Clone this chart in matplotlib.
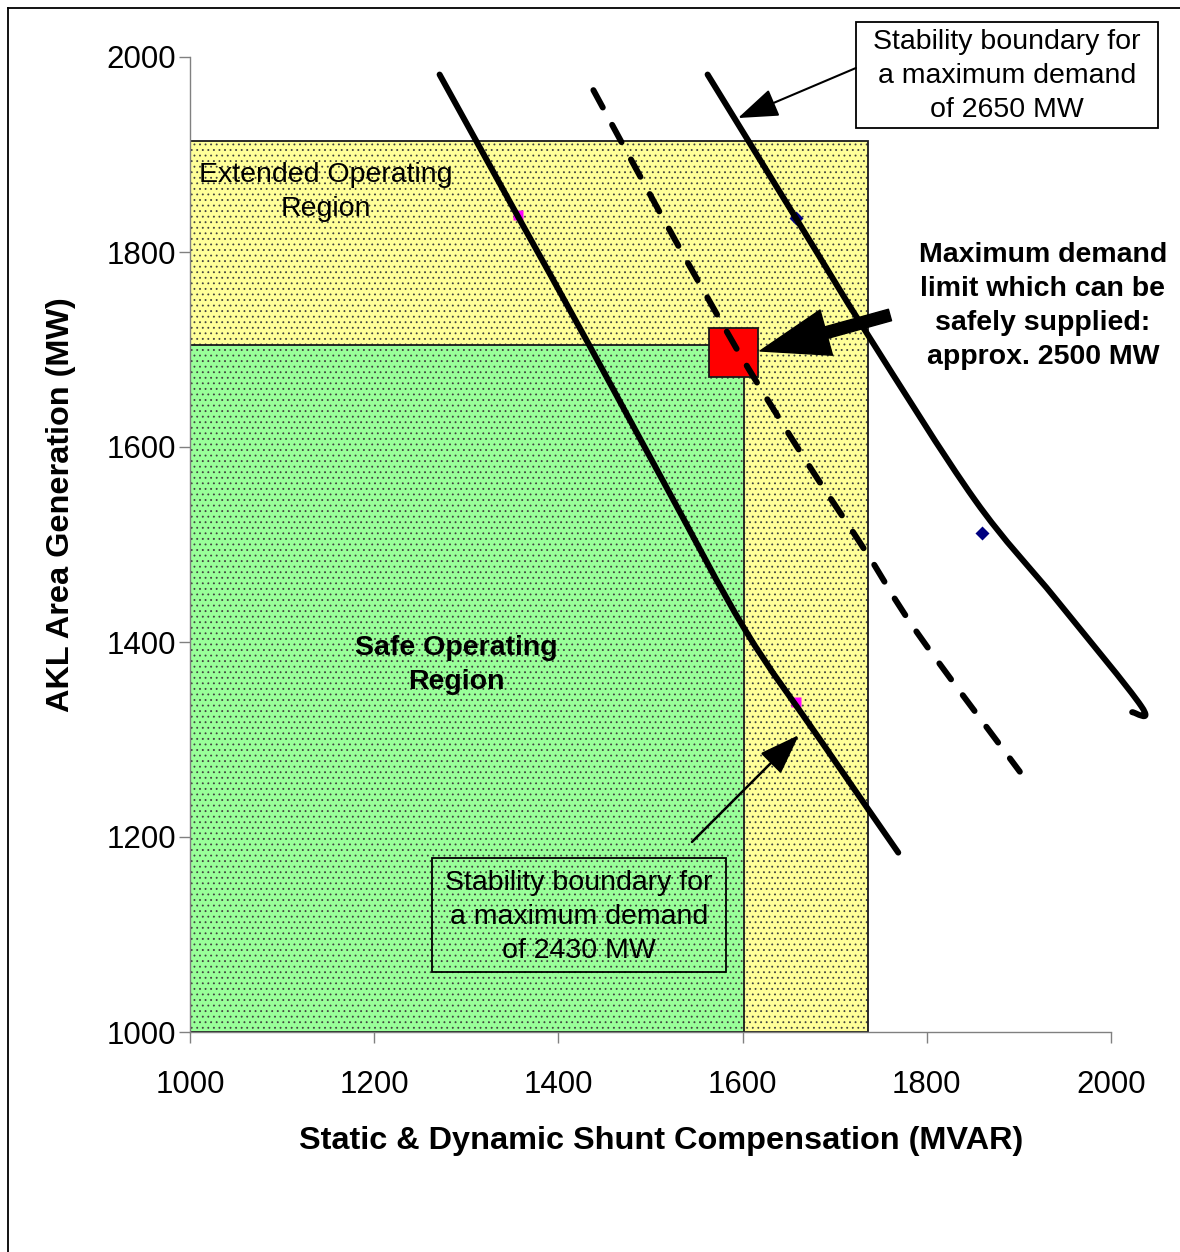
import matplotlib
matplotlib.use("Agg")
import matplotlib.pyplot as plt
from matplotlib.patches import Rectangle, PathPatch
from matplotlib.path import Path
from matplotlib.lines import Line2D

plt.rcParams['font.family'] = ['Liberation Sans', 'DejaVu Sans']
plt.rcParams['hatch.linewidth'] = 0.6

# ---- data ----
left_x = [1271, 1354, 1432, 1516, 1603, 1684, 1769]
left_y = [1982, 1840, 1707, 1561, 1412, 1300, 1184]

dashed_x = [1438, 1507, 1565, 1606, 1670, 1735, 1790, 1901]
dashed_y = [1966, 1846, 1748, 1681, 1584, 1491, 1409, 1267]

right_x = [1562, 1659, 1736, 1852, 1941, 2033, 2023]
right_y = [1982, 1833, 1715, 1546, 1443, 1334, 1328]

navy_x = [1658, 1860]
navy_y = [1835, 1512]
magenta_x = [1356, 1658]
magenta_y = [1838, 1338]

extended_region = (1000, 1736, 1000, 1914)   # x0, x1, y0, y1
safe_region = (1000, 1602, 1000, 1705)
limit_point = (1590, 1697)

xticks = [1000, 1200, 1400, 1600, 1800, 2000]
yticks = [1000, 1200, 1400, 1600, 1800, 2000]


def smooth_path(xs, ys):
    """Smoothed (Excel-like) path through the points using cubic Bezier segments."""
    pts = list(zip(xs, ys))
    n = len(pts)
    verts = [pts[0]]
    codes = [Path.MOVETO]
    for i in range(n - 1):
        p0 = pts[i - 1] if i > 0 else pts[i]
        p1 = pts[i]
        p2 = pts[i + 1]
        p3 = pts[i + 2] if i + 2 < n else pts[i + 1]
        c1 = (p1[0] + (p2[0] - p0[0]) / 6.0, p1[1] + (p2[1] - p0[1]) / 6.0)
        c2 = (p2[0] - (p3[0] - p1[0]) / 6.0, p2[1] - (p3[1] - p1[1]) / 6.0)
        verts += [c1, c2, p2]
        codes += [Path.CURVE4] * 3
    return Path(verts, codes)


# ---- figure ----
fig = plt.figure(figsize=(11.8, 12.52), dpi=100)
ax = fig.add_axes([190/1180, 1 - 1032/1252, 921/1180, 975/1252])
ax.set_xlim(1000, 2000)
ax.set_ylim(1000, 2000)

# figure border (left and top)
fig.add_artist(Line2D([8/1180, 8/1180], [0, 1 - 8/1252], color='black', lw=1.3, transform=fig.transFigure))
fig.add_artist(Line2D([8/1180, 1], [1 - 8/1252, 1 - 8/1252], color='black', lw=1.3, transform=fig.transFigure))


def region(r, color, z):
    x0, x1, y0, y1 = r
    ax.add_patch(Rectangle((x0, y0), x1 - x0, y1 - y0, facecolor=color, edgecolor='#404040',
                           hatch='...', lw=0, zorder=z))
    ax.add_patch(Rectangle((x0, y0), x1 - x0, y1 - y0, facecolor='none', edgecolor='#1a1a1a',
                           lw=1.3, zorder=z + 0.1))


region(extended_region, '#ffff99', 1)
region(safe_region, '#99ff99', 2)

# markers
ax.plot(magenta_x, magenta_y, 's', color='#ff00ff', ms=7, mec='none', zorder=3)
ax.plot(navy_x, navy_y, 'D', color='#000080', ms=7.5, mec='none', zorder=3)

# curves
for xs, ys in [(left_x, left_y), (right_x, right_y)]:
    pp = PathPatch(smooth_path(xs, ys), facecolor='none', edgecolor='black', lw=4.3,
                   capstyle='round', joinstyle='round', zorder=4, clip_on=False)
    ax.add_patch(pp)

# red square (limit)
hx, hy = 26.6, 25
ax.add_patch(Rectangle((limit_point[0] - hx, limit_point[1] - hy), 2 * hx, 2 * hy,
                       facecolor='#ff0000', edgecolor='#1a1a1a', lw=1.3, zorder=5))

dp = PathPatch(smooth_path(dashed_x, dashed_y), facecolor='none', edgecolor='black', lw=4.3,
               linestyle=(0, (3.3, 3.3)), capstyle='round', zorder=6, clip_on=False)
ax.add_patch(dp)

# axes styling
for s in ['top', 'right']:
    ax.spines[s].set_visible(False)
for s in ['left', 'bottom']:
    ax.spines[s].set_color('#808080')
    ax.spines[s].set_linewidth(1.0)
ax.set_xticks(xticks)
ax.set_yticks(yticks)
ax.set_xticklabels([str(v) for v in xticks])
ax.set_yticklabels([str(v) for v in yticks])
ax.tick_params(axis='both', direction='out', length=8, width=1.0, color='#808080', labelsize=22.5)
ax.tick_params(axis='x', pad=19.5)
ax.tick_params(axis='y', pad=2)

ax.set_xlabel('Static & Dynamic Shunt Compensation (MVAR)', fontsize=23.4, fontweight='bold')
ax.set_ylabel('AKL Area Generation (MW)', fontsize=23.4, fontweight='bold')
ax.xaxis.set_label_coords(0.511, -0.1115)
ax.xaxis.label.set_va('center')
ax.yaxis.set_label_coords(-0.1400, 0.5405)
ax.yaxis.label.set_va('center')

# texts
LS = 1.4
ax.text(1147.7, 1861.5, 'Extended Operating\nRegion', ha='center', va='center', fontsize=20.5,
        linespacing=LS, zorder=7)
ax.text(1288.8, 1376.4, 'Safe Operating\nRegion', ha='center', va='center', fontsize=20.5,
        fontweight='bold', linespacing=LS, zorder=7)
ax.text(1926, 1744.6, 'Maximum demand\nlimit which can be\nsafely supplied:\napprox. 2500 MW',
        ha='center', va='center', fontsize=20.5, fontweight='bold', linespacing=LS, zorder=7)

# annotation boxes
ax.add_patch(Rectangle((1723.1, 1927.2), 2051 - 1723.1, 2035.9 - 1927.2, facecolor='none',
                       edgecolor='black', lw=1.3, zorder=7, clip_on=False))
ax.add_patch(Rectangle((1262.8, 1061.5), 1582 - 1262.8, 1178.5 - 1061.5, facecolor='none',
                       edgecolor='black', lw=1.3, zorder=7, clip_on=False))
ax.text(1887, 1980.2, 'Stability boundary for\na maximum demand\nof 2650 MW', ha='center',
        va='center', fontsize=20.5, linespacing=LS, zorder=7, clip_on=False)
ax.text(1422.4, 1118, 'Stability boundary for\na maximum demand\nof 2430 MW', ha='center',
        va='center', fontsize=20.5, linespacing=LS, zorder=7)

# arrows
ax.annotate('', xy=(1595, 1937.4), xytext=(1723, 1988.7),
            arrowprops=dict(arrowstyle='-|>,head_length=1.4,head_width=0.5', color='black', lw=1.5,
                            mutation_scale=18, shrinkA=0, shrinkB=0), annotation_clip=False, zorder=8)
ax.annotate('', xy=(1661.2, 1304.6), xytext=(1545, 1194.9),
            arrowprops=dict(arrowstyle='-|>,head_length=1.4,head_width=0.5', color='black', lw=1.8,
                            mutation_scale=18, shrinkA=0, shrinkB=0), annotation_clip=False, zorder=8)
ax.annotate('', xy=(1618.9, 1698.5), xytext=(1760, 1735.4),
            arrowprops=dict(arrowstyle='simple,head_length=1.1,head_width=0.75,tail_width=0.19',
                            color='black', mutation_scale=45, shrinkA=0, shrinkB=0),
            annotation_clip=False, zorder=8)

fig.savefig('out.png', dpi=100)
